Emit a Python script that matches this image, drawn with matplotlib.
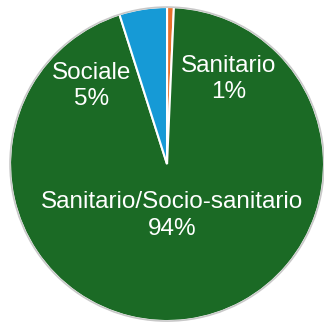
import matplotlib
matplotlib.use("Agg")
import matplotlib.pyplot as plt
import numpy as np

# slices, clockwise from 12 o'clock
categories = ["Sanitario", "Sanitario/Socio-sanitario", "Sociale"]
values = [0.7, 94.4, 4.9]
colors = ["#e8702a", "#1b6a25", "#169ad6"]

# label anchor (radius, angle from 12 o'clock clockwise, deg)
label_pos = [(0.67, 36), (0.33, 174), (0.69, -44)]

plt.rcParams["font.family"] = ["Liberation Sans", "DejaVu Sans"]

fig = plt.figure(figsize=(3.24, 3.22), dpi=100)
ax = fig.add_axes([0, 0, 1, 1])

wedges, _ = ax.pie(
    values,
    colors=colors,
    startangle=90,
    counterclock=False,
    wedgeprops={"edgecolor": "white", "linewidth": 1.5},
)
ax.add_patch(plt.Circle((0, 0), 1.0, fill=False, edgecolor="#c8c8c8", linewidth=1.2))

for name, val, (r, a) in zip(categories, values, label_pos):
    th = np.deg2rad(a)
    ax.text(
        r * np.sin(th),
        r * np.cos(th),
        f"{name}\n{val:.0f}%",
        ha="center",
        va="center",
        color="white",
        fontsize=17.5,
        linespacing=1.25,
    )

ax.set_xlim(-1.064, 1.0)
ax.set_ylim(-1.006, 1.045)
ax.set_aspect("auto")
ax.axis("off")

fig.savefig("out.png", dpi=100)
